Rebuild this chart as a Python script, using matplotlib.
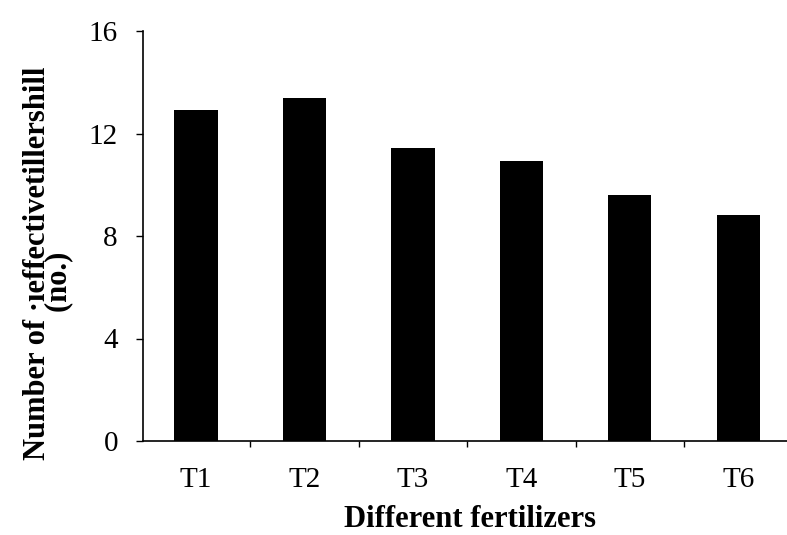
import matplotlib
matplotlib.use("Agg")
import matplotlib.pyplot as plt
import numpy as np

categories = ["T1", "T2", "T3", "T4", "T5", "T6"]
values = [12.92, 13.39, 11.45, 10.94, 9.6, 8.82]
yticks = [0, 4, 8, 12, 16]

plt.rcParams['font.family'] = ['Liberation Serif', 'DejaVu Serif']

W, H = 787, 535
fig = plt.figure(figsize=(W / 100, H / 100), dpi=100)
ax = fig.add_axes([143 / W, 1 - 441 / H, 1 - 143 / W, (441 - 31) / H])

x = np.arange(len(categories))
ax.bar(x, values, width=0.4, color='black')

ax.set_xlim(-0.49, 5.45)
ax.set_ylim(0, 16)
ax.set_yticks(yticks)
ax.set_yticklabels([str(t) for t in yticks], fontsize=21)

ax.set_xticks(x)
ax.set_xticklabels(categories, fontsize=21)
ax.tick_params(axis='x', length=0, pad=19)
ax.set_xticks(np.arange(0.5, len(categories) - 0.5, 1.0), minor=True)
ax.tick_params(axis='x', which='minor', length=4, direction='out', width=1)
ax.tick_params(axis='y', length=5, direction='out', width=1, pad=13)

for s in ['top', 'right']:
    ax.spines[s].set_visible(False)
for s in ['left', 'bottom']:
    ax.spines[s].set_linewidth(1.2)

fig.text(470 / W, 1 - 527 / H, "Different fertilizers", fontsize=22,
         fontweight='bold', ha='center', va='baseline')
fig.text(48 / W, 1 - 263 / H,
         "Number of \u00b7\u0131effectivetillershill\n(no.)     ",
         fontsize=22, fontweight='bold', rotation=90,
         ha='center', va='center', multialignment='center', linespacing=0.68)

fig.savefig("out.png", dpi=100)
